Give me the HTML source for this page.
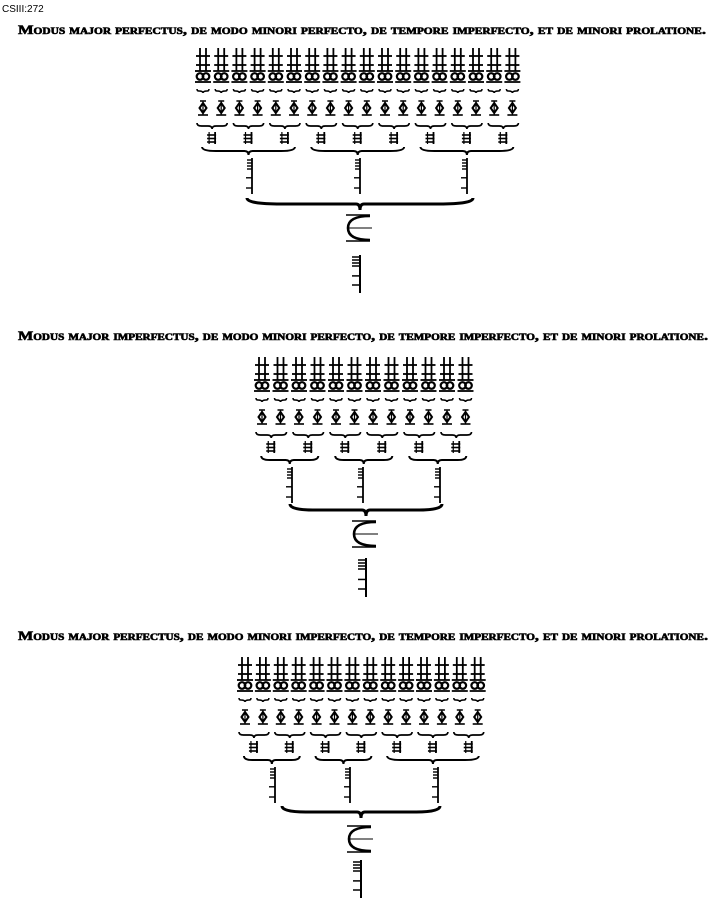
<!DOCTYPE html>
<html><head><meta charset="utf-8"><style>
html,body{margin:0;padding:0;background:#fff;width:723px;height:904px;overflow:hidden}
svg{display:block}
</style></head><body>
<svg id="s" width="723" height="904" xmlns="http://www.w3.org/2000/svg" font-family="Liberation Serif, serif">
<text x="2" y="12" font-size="10" font-family="Liberation Sans, sans-serif">CSIII:272</text>
<text x="18" y="34" font-size="13" font-weight="bold" font-variant="small-caps" stroke="#000" stroke-width="0.6" textLength="688" lengthAdjust="spacingAndGlyphs">Modus major perfectus, de modo minori perfecto, de tempore imperfecto, et de minori prolatione.</text>
<text x="18" y="340" font-size="13" font-weight="bold" font-variant="small-caps" stroke="#000" stroke-width="0.6" textLength="690" lengthAdjust="spacingAndGlyphs">Modus major imperfectus, de modo minori perfecto, de tempore imperfecto, et de minori prolatione.</text>
<text x="18" y="640" font-size="13" font-weight="bold" font-variant="small-caps" stroke="#000" stroke-width="0.6" textLength="690" lengthAdjust="spacingAndGlyphs">Modus major perfectus, de modo minori imperfecto, de tempore imperfecto, et de minori prolatione.</text>
<g id="g" stroke="#000" fill="none"></g>
</svg>
<script>
var g=document.getElementById('g'),h='';
function L(x1,y1,x2,y2,w){h+='<line x1="'+x1+'" y1="'+y1+'" x2="'+x2+'" y2="'+y2+'" stroke-width="'+(w||1.3)+'"/>';}
function brace(x1,x2,y,d,w){var m=(x1+x2)/2;
h+='<path d="M'+x1+' '+(y-d)+' Q'+x1+' '+y+' '+(x1+(m-x1)*0.3)+' '+y+' L'+(m-4)+' '+y+' Q'+m+' '+y+' '+m+' '+(y+d)+' Q'+m+' '+y+' '+(m+4)+' '+y+' L'+(x2-(x2-m)*0.3)+' '+y+' Q'+x2+' '+y+' '+x2+' '+(y-d)+'" stroke-width="'+(w||1.6)+'"/>';}
function col(cx,t){
 L(cx-3,t,cx-3,t+23,1.8);L(cx+3,t,cx+3,t+23,1.8);
 L(cx-7,t+8,cx+7,t+8,1.8);L(cx-7,t+17,cx+7,t+17,1.8);
 L(cx-8,t+23,cx+8,t+23,1.8);
 h+='<circle cx="'+(cx-3)+'" cy="'+(t+28.5)+'" r="3.3" stroke-width="2.2"/><circle cx="'+(cx+3)+'" cy="'+(t+28.5)+'" r="3.3" stroke-width="2.2"/>';
 L(cx-8,t+34,cx+8,t+34,1.8);
 brace(cx-6,cx+6,t+43,2,1.5);
 L(cx-3,t+53,cx+3,t+53,1.5);
 h+='<path d="M'+cx+' '+(t+55)+' L'+(cx+3.5)+' '+(t+60)+' L'+cx+' '+(t+65)+' L'+(cx-3.5)+' '+(t+60)+'Z" stroke-width="2"/>';
 L(cx,t+53,cx,t+67,1.2);L(cx-5,t+67,cx+5,t+67,1.6);
}
function tri(x,t){
 L(x+3,t,x+3,t+12,1.8);L(x-3,t,x-3,t+12,1.2);
 L(x-5,t+3,x+4,t+3,1.6);L(x-5,t+6.5,x+4,t+6.5,1.6);L(x-5,t+10,x+4,t+10,1.6);
}
function stem(x,t,b){L(x,t,x,b,1.8);L(x-5,t+2,x,t+2,1.4);L(x-5,t+5,x,t+5,1.4);L(x-5,t+8,x,t+8,1.4);L(x-5,t+11,x,t+11,1.4);L(x-6,t+(b-t)*0.55,x,t+(b-t)*0.55,1.4);L(x-6,b-6,x,b-6,1.4);}
function section(x0,n,sp,t,groups,stems,bb,cT,sT,sB){
 var xs=[];for(var i=0;i<n;i++){xs.push(x0+i*sp);col(xs[i],t);}
 var k=0,triX=[];
 groups.forEach(function(gs){gs.forEach(function(p){var a=xs[k],b=xs[k+p-1];brace(a-6,b+6,t+78,3,1.7);var m=(a+b)/2;triX.push(m);tri(m,t+84);k+=p;});
  var a=triX[triX.length-gs.length],b=triX[triX.length-1];brace(a-10,b+10,t+103,4,2);});
 stems.forEach(function(x){stem(x,t+110,t+146);});
 brace(bb[0],bb[1],bb[2],6,3);
 var cx=(bb[0]+bb[1])/2;
 h+='<path d="M'+(cx+10)+' '+(cT+1)+' Q'+(cx-12)+' '+(cT+1)+' '+(cx-12)+' '+(cT+13)+' Q'+(cx-12)+' '+(cT+25)+' '+(cx+10)+' '+(cT+25)+'" stroke-width="2.6"/>';
 L(cx-14,cT,cx+10,cT,1.5);L(cx-14,cT+26,cx+10,cT+26,1.5);L(cx-11,cT+13,cx+12,cT+13,1);
 L(cx,sT,cx,sB,2);for(var j=0;j<4;j++)L(cx-8,sT+2+j*3,cx,sT+2+j*3,1.5);
 L(cx-8,sT+(sB-sT)*0.55,cx,sT+(sB-sT)*0.55,1.5);L(cx-8,sB-8,cx,sB-8,1.5);
}
section(203,18,18.2,48,[[2,2,2],[2,2,2],[2,2,2]],[252,360,467],[247,473,204],215,255,293);
section(262,12,18.5,357,[[2,2],[2,2],[2,2]],[292,363,440],[290,442,510],521,558,597);
section(245,14,17.9,657,[[2,2],[2,2],[2,2,2]],[275,350,438],[282,440,812],826,860,898);
g.innerHTML=h;
</script>
</body></html>
